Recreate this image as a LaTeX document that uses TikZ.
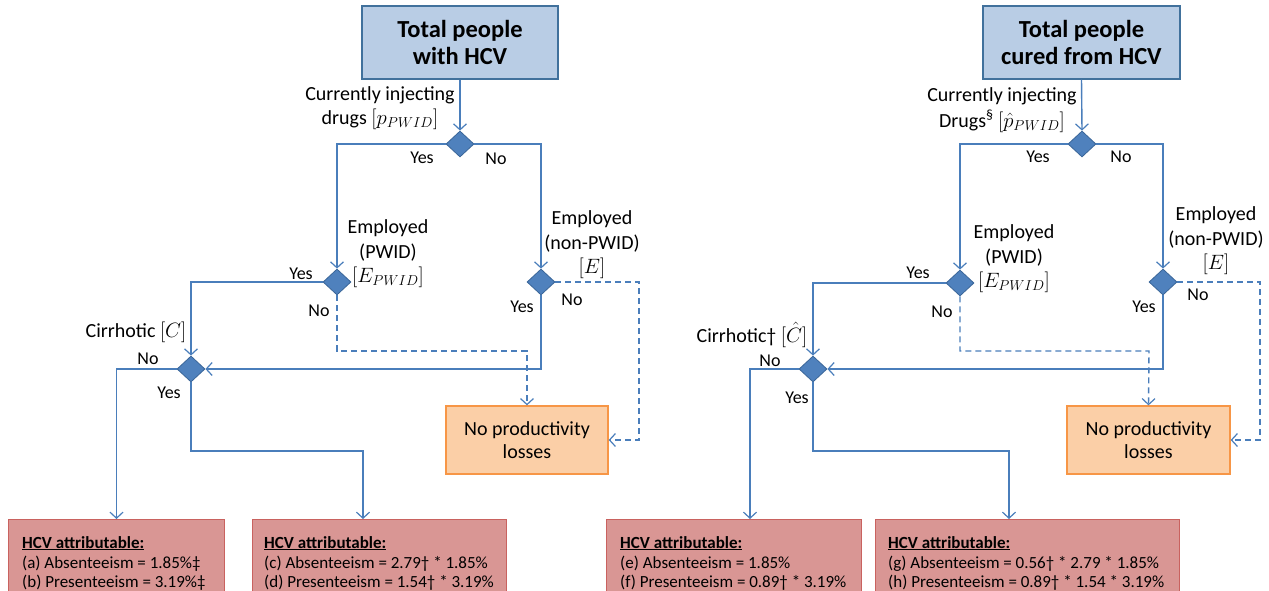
\documentclass[tikz,border=0pt]{standalone}
\usepackage{fontspec}
\setmainfont{Carlito}
\usetikzlibrary{arrows.meta,shapes.geometric,calc}
\definecolor{lncol}{HTML}{4A7EBB}
\definecolor{diafill}{HTML}{4F81BD}
\definecolor{diadraw}{HTML}{3A6699}
\definecolor{topfill}{HTML}{B9CDE5}
\definecolor{topdraw}{HTML}{41719C}
\definecolor{redfill}{HTML}{D99694}
\definecolor{reddraw}{HTML}{C9625F}
\definecolor{orfill}{HTML}{FBCFA7}
\definecolor{ordraw}{HTML}{F79646}
\tikzset{
  ln/.style={draw=lncol, line width=1.4pt},
  arr/.style={-{Straight Barb[length=6pt,width=13pt,line width=1.2pt]}},
  dsh/.style={ln, dash pattern=on 6pt off 4pt},
  dia/.style={diamond, fill=diafill, draw=diadraw, line width=0.8pt, minimum width=28pt, minimum height=26pt, inner sep=0pt},
  topbox/.style={rectangle, fill=topfill, draw=topdraw, line width=1.3pt, font=\fontsize{24.5}{27}\selectfont\bfseries, align=center},
  redbox/.style={rectangle, fill=redfill, draw=reddraw, line width=1.3pt, anchor=north west, minimum height=85pt},
  npbox/.style={rectangle, fill=orfill, draw=ordraw, line width=1.3pt, font=\fontsize{20}{23}\selectfont, align=center, minimum width=162pt, minimum height=68pt},
  lab/.style={font=\fontsize{20}{24.5}\selectfont, align=center, inner sep=0pt},
  yn/.style={font=\fontsize{18}{20}\selectfont, inner sep=0pt},
  bt/.style={font=\fontsize{17}{19}\selectfont, anchor=base west, inner sep=0pt},
}
\begin{document}
\begin{tikzpicture}[x=1pt,y=-1pt]
\useasboundingbox[fill=white] (0,0) rectangle (1269,591);

% ================= LEFT TREE =================
\node[topbox, minimum width=196pt, minimum height=73pt] (top1) at (460,42.5) {Total people\\with HCV};
\node[dia] (d1) at (460,144) {};
\node[dia] (d2) at (337,282) {};
\node[dia] (d3) at (541,282) {};
\node[dia] (c1) at (191,369) {};
\node[npbox] (np1) at (527,440) {No productivity\\losses};
\node[redbox, minimum width=216pt] (ba) at (8,519) {};
\node[redbox, minimum width=254pt] (bc) at (252,519) {};
\coordinate (k1) at (527,351);
\coordinate (k2) at (639,440);
\coordinate (k3) at (363,451);
\coordinate (k4) at (116.5,519);

\draw[ln,arr] (top1.south) -- (d1.north);
\draw[ln,arr] (d1.west) -| (d2.north);
\draw[ln,arr] (d1.east) -| (d3.north);
\draw[ln,arr] (d2.west) -| (c1.north);
\draw[ln,arr] (d3.south) |- (c1.east);
\draw[dsh,arr] (d2.south) |- (k1) -- (np1.north);
\draw[dsh,arr] (d3.east) -| (k2) -- (np1.east);
\draw[ln,arr] (c1.west) -| (k4);
\draw[ln,arr] (c1.south) |- (k3) -- (k3 |- bc.north);

\node[lab] (l1) at (380,108) {Currently injecting\\drugs $[p_{PWID}]$};
\node[lab] (l2) at (388,254) {Employed\\(PWID)\\$[E_{PWID}]$};
\node[lab] (l3) at (592,245) {Employed\\(non-PWID)\\$[E]$};
\node[lab] (l4) at (136,332) {Cirrhotic $[C]$};
\node[yn] (y1) at (422,158) {Yes};
\node[yn] (n1) at (496,159) {No};
\node[yn] (y2) at (301,274) {Yes};
\node[yn] (n2) at (319,311) {No};
\node[yn] (y3) at (522,307) {Yes};
\node[yn] (n3) at (572,300) {No};
\node[yn] (n4) at (148,359) {No};
\node[yn] (y4) at (169,393) {Yes};

\node[bt] (ta1) at (22,548) {\bfseries\underline{HCV attributable:}};
\node[bt] (ta2) at (22,568) {(a) Absenteeism = 1.85\%‡};
\node[bt] (ta3) at (22,587) {(b) Presenteeism = 3.19\%‡};
\node[bt] (tc1) at (264,548) {\bfseries\underline{HCV attributable:}};
\node[bt] (tc2) at (264,568) {(c) Absenteeism = 2.79† * 1.85\%};
\node[bt] (tc3) at (264,587) {(d) Presenteeism = 1.54† * 3.19\%};

% ================= RIGHT TREE =================
\node[topbox, minimum width=197pt, minimum height=73pt] (top2) at (1081.5,42.5) {Total people\\cured from HCV};
\node[dia] (d1r) at (1082,144) {};
\node[dia] (d2r) at (960,283) {};
\node[dia] (d3r) at (1163,282) {};
\node[dia] (c1r) at (813,369) {};
\node[npbox, minimum width=163pt] (np2) at (1148.5,440) {No productivity\\losses};
\node[redbox, minimum width=255pt] (be) at (606,519) {};
\node[redbox, minimum width=304pt] (bg) at (875,519) {};
\coordinate (k1r) at (1149,351);
\coordinate (k2r) at (1260,440);
\coordinate (k3r) at (1009,451);
\coordinate (k4r) at (750,519);

\draw[ln,arr] (top2.south) -- (d1r.north);
\draw[ln,arr] (d1r.west) -| (d2r.north);
\draw[ln,arr] (d1r.east) -| (d3r.north);
\draw[ln,arr] (d2r.west) -| (c1r.north);
\draw[ln,arr] (d3r.south) |- (c1r.east);
\draw[dsh,arr] (d2r.south) |- (k1r) -- (np2.north);
\draw[dsh,arr] (d3r.east) -| (k2r) -- (np2.east);
\draw[ln,arr] (c1r.west) -| (k4r);
\draw[ln,arr] (c1r.south) |- (k3r) -- (k3r |- bg.north);

\node[lab, font=\fontsize{20}{26}\selectfont] (r1) at (1002,110) {Currently injecting\\Drugs\textsuperscript{§} $[\hat{p}_{PWID}]$};
\node[lab] (r2) at (1014,259) {Employed\\(PWID)\\$[E_{PWID}]$};
\node[lab] (r3) at (1216,241) {Employed\\(non-PWID)\\$[E]$};
\node[lab] (r4) at (752,335) {Cirrhotic† $[\hat{C}]$};
\node[yn] (yr1) at (1038,157) {Yes};
\node[yn] (nr1) at (1121,157) {No};
\node[yn] (yr2) at (918,273) {Yes};
\node[yn] (nr2) at (942,312) {No};
\node[yn] (yr3) at (1144,307) {Yes};
\node[yn] (nr3) at (1198,295) {No};
\node[yn] (nr4) at (770,361) {No};
\node[yn] (yr4) at (797,398) {Yes};

\node[bt] (te1) at (620,548) {\bfseries\underline{HCV attributable:}};
\node[bt] (te2) at (620,568) {(e) Absenteeism = 1.85\%};
\node[bt] (te3) at (620,587) {(f) Presenteeism = 0.89† * 3.19\%};
\node[bt] (tg1) at (888,548) {\bfseries\underline{HCV attributable:}};
\node[bt] (tg2) at (888,568) {(g) Absenteeism = 0.56† * 2.79 * 1.85\%};
\node[bt] (tg3) at (888,587) {(h) Presenteeism = 0.89† * 1.54 * 3.19\%};
\end{tikzpicture}
\end{document}
